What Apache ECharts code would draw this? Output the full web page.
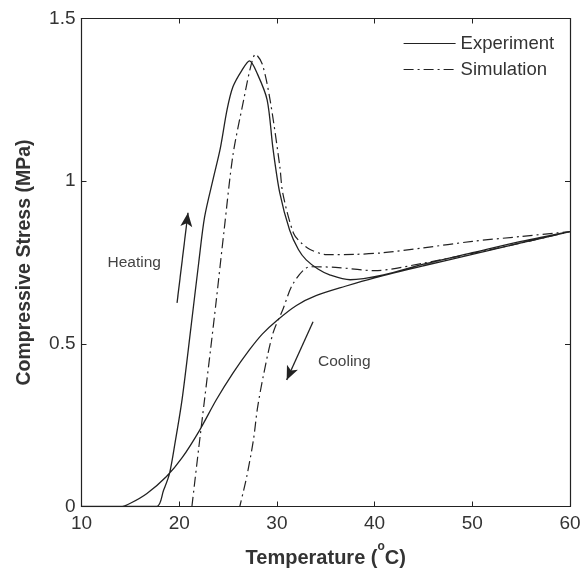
<!DOCTYPE html>
<html>
<head>
<meta charset="utf-8">
<script src="https://cdn.jsdelivr.net/npm/echarts@6/dist/echarts.min.js"></script>
<style>
  html, body { margin: 0; padding: 0; background: #fff; }
  #chart { width: 584px; height: 572px; }
</style>
</head>
<body>
<div id="chart"></div>
<script>
  // measured experiment loop: heating branch, then cooling branch back to 10 C
  var experiment = [
    [10, 0], [14, 0], [17.7, 0], [18.4, 0.05], [19, 0.1], [19.6, 0.2], [20.3, 0.33],
    [21.2, 0.55], [22.0, 0.75], [22.6, 0.89], [23.5, 1.01], [24.2, 1.1], [24.9, 1.22],
    [25.5, 1.29], [26.4, 1.34], [27.2, 1.37], [28.0, 1.33], [29.0, 1.25], [29.6, 1.1],
    [30.3, 0.963], [31.3, 0.85], [32.2, 0.79], [33.0, 0.758], [34.2, 0.73], [35.4, 0.712],
    [37.5, 0.697], [40.9, 0.712], [45, 0.745], [50, 0.78], [55, 0.815], [60, 0.845],
    [55, 0.81], [50, 0.775], [45, 0.74], [40, 0.703], [37, 0.677], [34, 0.648],
    [32, 0.618], [30, 0.572], [28.5, 0.53], [27.2, 0.482], [25.5, 0.41], [23.8, 0.328],
    [22.1, 0.235], [20.3, 0.15], [18.7, 0.092], [16.7, 0.04], [15, 0.01], [14, 0], [10, 0]
  ];

  // model prediction loop
  var simulation = [
    [21.3, 0], [22.0, 0.18], [22.6, 0.33], [23.2, 0.48], [23.8, 0.635], [24.6, 0.85],
    [25.5, 1.08], [26.6, 1.25], [27.3, 1.35], [27.8, 1.39], [28.5, 1.36], [29.3, 1.25],
    [30.3, 1.045], [30.6, 0.963], [31.7, 0.84], [32.5, 0.81], [33.4, 0.79], [35.1, 0.774],
    [38, 0.775], [40.9, 0.78], [45, 0.795], [50, 0.815], [55, 0.83], [60, 0.845],
    [55, 0.81], [50, 0.778], [45, 0.748], [40, 0.725], [36, 0.735], [33.4, 0.737],
    [31.7, 0.687], [30.6, 0.605], [29.6, 0.533], [28.6, 0.4], [28.0, 0.3], [27.6, 0.205],
    [26.9, 0.09], [26.2, 0]
  ];

  var xTicks = [10, 20, 30, 40, 50, 60];
  var yTicks = [0, 0.5, 1, 1.5];

  // direction arrows and their captions, in data units
  var heatingArrow = [[19.78, 0.626], [20.9, 0.903]];
  var coolingArrow = [[33.7, 0.568], [31.0, 0.389]];
  var heatingLabel = [15.4, 0.749];
  var coolingLabel = [36.9, 0.445];

  var chart = echarts.init(document.getElementById('chart'));
  var ink = '#222';
  var font = 'Liberation Sans, Arial, sans-serif';

  function arrowLine(pts) {
    return {
      silent: true,
      symbol: ['none', 'arrow'],
      symbolSize: [9, 14],
      lineStyle: { color: ink, width: 1.3, type: 'solid' },
      label: { show: false },
      data: [[{ coord: pts[0] }, { coord: pts[1] }]]
    };
  }

  function textPoint(pt, text) {
    return {
      silent: true,
      symbol: 'circle',
      symbolSize: 0,
      label: {
        show: true, position: 'inside', formatter: text,
        color: '#444', fontSize: 15.5, fontFamily: font
      },
      data: [{ coord: pt }]
    };
  }

  var axisCommon = {
    type: 'value',
    splitLine: { show: false },
    axisLine: { show: true, onZero: false, lineStyle: { color: ink, width: 1.2 } },
    axisTick: { show: true, inside: true, length: 5, lineStyle: { color: ink } }
  };

  var option = {
    animation: false,
    backgroundColor: '#fff',
    grid: { left: 81.5, right: 14, top: 18.5, bottom: 65.5, outerBoundsMode: 'none' },
    legend: {
      orient: 'vertical',
      left: 398, top: 29,
      itemWidth: 52, itemHeight: 16, itemGap: 7,
      itemStyle: { opacity: 0 },
      lineStyle: { width: 1.2 },
      textStyle: { fontSize: 18.5, color: '#333', fontFamily: font },
      data: ['Experiment', 'Simulation']
    },
    xAxis: [
      Object.assign({}, axisCommon, {
        min: xTicks[0], max: xTicks[xTicks.length - 1], interval: 10,
        axisLabel: { fontSize: 19, color: '#333', fontFamily: font, margin: 8 },
        name: '{t|Temperature (}{s|o}{t|C)}',
        nameLocation: 'middle', nameGap: 34,
        nameTextStyle: {
          rich: {
            t: { fontSize: 20, fontWeight: 'bold', color: '#333', fontFamily: font, verticalAlign: 'bottom' },
            s: { fontSize: 12, fontWeight: 'bold', color: '#333', fontFamily: font, verticalAlign: 'top', padding: [0, 0, 16, 0] }
          }
        }
      }),
      Object.assign({}, axisCommon, {
        position: 'top',
        min: xTicks[0], max: xTicks[xTicks.length - 1], interval: 10,
        axisLabel: { show: false }
      })
    ],
    yAxis: [
      Object.assign({}, axisCommon, {
        min: yTicks[0], max: yTicks[yTicks.length - 1], interval: 0.5,
        axisLabel: {
          fontSize: 19, color: '#333', fontFamily: font, margin: 6,
          formatter: function(v) { return yTicks.indexOf(v) >= 0 ? String(v) : ''; }
        },
        name: 'Compressive Stress (MPa)',
        nameLocation: 'middle', nameGap: 47, nameRotate: 90,
        nameTextStyle: { fontSize: 19.5, fontWeight: 'bold', color: '#333', fontFamily: font }
      }),
      Object.assign({}, axisCommon, {
        position: 'right',
        min: yTicks[0], max: yTicks[yTicks.length - 1], interval: 0.5,
        axisLabel: { show: false }
      })
    ],
    series: [
      {
        name: 'Experiment',
        type: 'line',
        data: experiment,
        symbol: 'none',
        smooth: 0.3,
        lineStyle: { color: ink, width: 1.3, type: 'solid' },
        itemStyle: { color: ink },
        markLine: arrowLine(heatingArrow),
        markPoint: textPoint(heatingLabel, 'Heating')
      },
      {
        name: 'Simulation',
        type: 'line',
        data: simulation,
        symbol: 'none',
        smooth: 0.3,
        lineStyle: { color: ink, width: 1.2, type: [10, 4, 2, 4] },
        itemStyle: { color: ink },
        markLine: arrowLine(coolingArrow),
        markPoint: textPoint(coolingLabel, 'Cooling')
      }
    ]
  };

  chart.setOption(option);
</script>
</body>
</html>
